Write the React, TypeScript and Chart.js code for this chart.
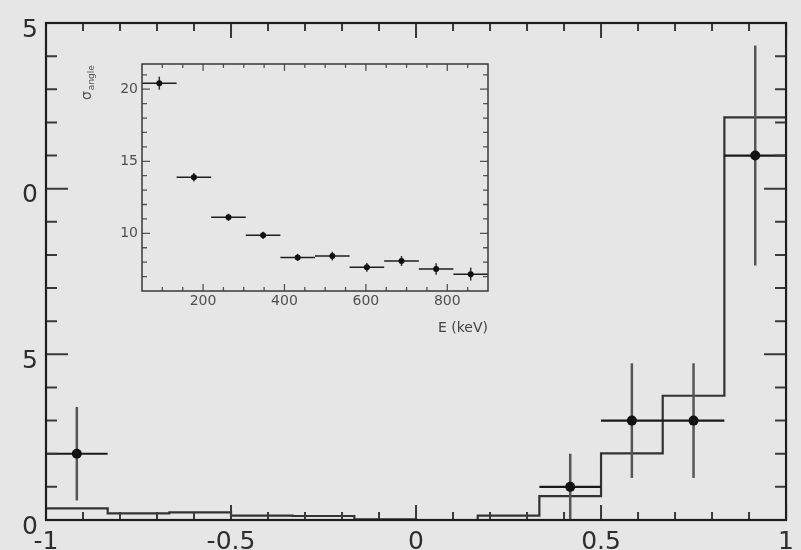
import React, { useEffect, useRef } from "react";
import { Chart, registerables } from "chart.js";

Chart.register(...registerables);

// ---------- main histogram data ----------
const binEdges = [-1, -0.8333, -0.6667, -0.5, -0.3333, -0.1667, 0, 0.1667, 0.3333, 0.5, 0.6667, 0.8333, 1];
const simCounts = [0.35, 0.2, 0.23, 0.13, 0.12, 0.02, 0, 0.13, 0.72, 2.01, 3.75, 12.15];
const dataX = [-0.9167, 0.4167, 0.5833, 0.75, 0.9167];
const dataY = [2, 1, 3, 3, 11];
const dataErrY = [1.41, 1.0, 1.73, 1.73, 3.32];
const dataErrX = [0.0833, 0.0833, 0.0833, 0.0833, 0.0833];
const xTickValues = [-1, -0.5, 0, 0.5, 1];
const xTickLabels = ["-1", "-0.5", "0", "0.5", "1"];
const yTickValues = [0, 5, 10, 15];
const yTickLabels = ["0", "5", "0", "5"];

// ---------- inset data ----------
const insetX = [92.5, 177.5, 262.5, 347.5, 432.5, 517.5, 602.5, 687.5, 772.5, 857.5];
const insetY = [20.42, 13.89, 11.11, 9.86, 8.33, 8.42, 7.64, 8.08, 7.52, 7.17];
const insetErrY = [0.45, 0.3, 0.25, 0.25, 0.25, 0.3, 0.3, 0.35, 0.4, 0.45];
const insetErrX = [42.5, 42.5, 42.5, 42.5, 42.5, 42.5, 42.5, 42.5, 42.5, 42.5];
const insetXTickValues = [200, 400, 600, 800];
const insetXTickLabels = ["200", "400", "600", "800"];
const insetYTickValues = [10, 15, 20];
const insetYTickLabels = ["10", "15", "20"];
const insetXTitle = "E (keV)";
const insetYTitleSymbol = "σ";
const insetYTitleSub = "angle";

const FONT = '"DejaVu Sans", "Liberation Sans", sans-serif';

type TickCfg = {
  xMin: number; xMax: number; xStep: number; xMajorEvery: number; xMajorLen: number; xMinorLen: number;
  yMin: number; yMax: number; yStep: number; yMajorEvery: number; yMajorLen: number; yMinorLen: number;
  tickColor: string; tickWidth: number; frameColor: string; frameWidth: number;
};

function drawFrame(chart: any, c: TickCfg) {
  const { ctx, chartArea: a, scales } = chart;
  const sx = scales.x, sy = scales.y;
  ctx.save();
  ctx.strokeStyle = c.tickColor;
  ctx.lineWidth = c.tickWidth;
  ctx.beginPath();
  const nx = Math.round((c.xMax - c.xMin) / c.xStep);
  for (let i = 0; i <= nx; i++) {
    const v = c.xMin + i * c.xStep;
    const major = i % c.xMajorEvery === 0;
    const L = major ? c.xMajorLen : c.xMinorLen;
    const px = sx.getPixelForValue(v);
    ctx.moveTo(px, a.bottom);
    ctx.lineTo(px, a.bottom - L);
    ctx.moveTo(px, a.top);
    ctx.lineTo(px, a.top + L);
  }
  const ny = Math.round((c.yMax - c.yMin) / c.yStep);
  for (let i = 0; i <= ny; i++) {
    const v = c.yMin + i * c.yStep;
    const major = i % c.yMajorEvery === 0;
    const L = major ? c.yMajorLen : c.yMinorLen;
    const py = sy.getPixelForValue(v);
    ctx.moveTo(a.left, py);
    ctx.lineTo(a.left + L, py);
    ctx.moveTo(a.right, py);
    ctx.lineTo(a.right - L, py);
  }
  ctx.stroke();
  ctx.strokeStyle = c.frameColor;
  ctx.lineWidth = c.frameWidth;
  ctx.strokeRect(a.left, a.top, a.right - a.left, a.bottom - a.top);
  ctx.restore();
}

function drawErrors(chart: any, xs: number[], ys: number[], ex: number[], ey: number[], hColor: string, vColor: string, hw: number, vw: number) {
  const { ctx, chartArea: a, scales } = chart;
  const sx = scales.x, sy = scales.y;
  ctx.save();
  ctx.beginPath();
  ctx.rect(a.left, a.top, a.right - a.left, a.bottom - a.top);
  ctx.clip();
  ctx.lineCap = "butt";
  for (let i = 0; i < xs.length; i++) {
    const px = sx.getPixelForValue(xs[i]);
    const py = sy.getPixelForValue(ys[i]);
    ctx.strokeStyle = vColor;
    ctx.lineWidth = vw;
    ctx.beginPath();
    ctx.moveTo(px, sy.getPixelForValue(ys[i] - ey[i]));
    ctx.lineTo(px, sy.getPixelForValue(ys[i] + ey[i]));
    ctx.stroke();
    ctx.strokeStyle = hColor;
    ctx.lineWidth = hw;
    ctx.beginPath();
    ctx.moveTo(sx.getPixelForValue(xs[i] - ex[i]), py);
    ctx.lineTo(sx.getPixelForValue(xs[i] + ex[i]), py);
    ctx.stroke();
  }
  ctx.restore();
}

export default function App() {
  const mainRef = useRef<HTMLCanvasElement | null>(null);
  const insetRef = useRef<HTMLCanvasElement | null>(null);

  useEffect(() => {
    if (!mainRef.current || !insetRef.current) return;

    const mainFrame: TickCfg = {
      xMin: -1, xMax: 1, xStep: 0.1, xMajorEvery: 5, xMajorLen: 15, xMinorLen: 8,
      yMin: 0, yMax: 15, yStep: 1, yMajorEvery: 5, yMajorLen: 22, yMinorLen: 11,
      tickColor: "#3a3a3a", tickWidth: 2, frameColor: "#1e1e1e", frameWidth: 2.2,
    };

    const mainPlugin = {
      id: "mainDecor",
      beforeDatasetDraw(chart: any, args: any) {
        if (args.index === 0) {
          drawErrors(chart, dataX, dataY, dataErrX, dataErrY, "#1a1a1a", "#555555", 2.2, 2.5);
        }
      },
      afterDraw(chart: any) {
        drawFrame(chart, mainFrame);
      },
    };

    const histPoints = binEdges.map((x, i) => ({ x, y: simCounts[Math.min(i, simCounts.length - 1)] }));

    const mainChart = new Chart(mainRef.current, {
      type: "scatter",
      data: {
        datasets: [
          {
            type: "scatter",
            data: dataX.map((x, i) => ({ x, y: dataY[i] })),
            pointRadius: 5,
            pointBackgroundColor: "#111111",
            pointBorderWidth: 0,
            showLine: false,
          } as any,
          {
            type: "line",
            data: histPoints,
            stepped: "before",
            borderColor: "#333333",
            borderWidth: 2.2,
            pointRadius: 0,
            fill: false,
          } as any,
        ],
      },
      options: {
        responsive: false,
        animation: false,
        devicePixelRatio: 1,
        layout: { padding: { left: 0, right: 9, top: 16, bottom: 0 } },
        plugins: { legend: { display: false }, tooltip: { enabled: false } },
        scales: {
          x: {
            type: "linear",
            min: -1,
            max: 1,
            afterBuildTicks: (s: any) => {
              s.ticks = xTickValues.map((value) => ({ value }));
            },
            afterFit: (s: any) => {
              s.height = 50;
            },
            ticks: {
              callback: (_v: any, i: number) => xTickLabels[i],
              autoSkip: false,
              maxRotation: 0,
              padding: 7,
              color: "#2e2e2e",
              font: { family: FONT, size: 25 },
            },
            grid: { display: false, drawTicks: false },
            border: { display: false },
          },
          y: {
            type: "linear",
            min: 0,
            max: 15,
            afterBuildTicks: (s: any) => {
              s.ticks = yTickValues.map((value) => ({ value }));
            },
            afterFit: (s: any) => {
              s.width = 46;
            },
            ticks: {
              callback: (_v: any, i: number) => yTickLabels[i],
              autoSkip: false,
              padding: 8,
              labelOffset: 7,
              color: "#2e2e2e",
              font: { family: FONT, size: 25 },
            },
            grid: { display: false, drawTicks: false },
            border: { display: false },
          },
        },
      } as any,
      plugins: [mainPlugin],
    });

    const insetFrame = {
      xMajorLen: 7, xMinorLen: 4, yMajorLen: 8, yMinorLen: 5,
      tickColor: "#555555", tickWidth: 1.3, frameColor: "#3a3a3a", frameWidth: 1.5,
    };
    const insetPlugin = {
      id: "insetDecor",
      beforeDatasetDraw(chart: any, args: any) {
        if (args.index === 0) {
          drawErrors(chart, insetX, insetY, insetErrX, insetErrY, "#1e1e1e", "#333333", 1.5, 1.5);
        }
      },
      afterDraw(chart: any) {
        const { ctx, chartArea: a, scales } = chart;
        ctx.save();
        ctx.strokeStyle = insetFrame.tickColor;
        ctx.lineWidth = insetFrame.tickWidth;
        ctx.beginPath();
        for (let v = 100; v <= 850; v += 50) {
          const major = v % 200 === 0;
          const L = major ? insetFrame.xMajorLen : insetFrame.xMinorLen;
          const px = scales.x.getPixelForValue(v);
          ctx.moveTo(px, a.bottom);
          ctx.lineTo(px, a.bottom - L);
          ctx.moveTo(px, a.top);
          ctx.lineTo(px, a.top + L);
        }
        for (let v = 7; v <= 21; v += 1) {
          const major = v % 5 === 0;
          const L = major ? insetFrame.yMajorLen : insetFrame.yMinorLen;
          const py = scales.y.getPixelForValue(v);
          ctx.moveTo(a.left, py);
          ctx.lineTo(a.left + L, py);
          ctx.moveTo(a.right, py);
          ctx.lineTo(a.right - L, py);
        }
        ctx.stroke();
        ctx.strokeStyle = insetFrame.frameColor;
        ctx.lineWidth = insetFrame.frameWidth;
        ctx.strokeRect(a.left, a.top, a.right - a.left, a.bottom - a.top);
        // rotated y title
        ctx.translate(31, 60);
        ctx.rotate(-Math.PI / 2);
        ctx.fillStyle = "#555555";
        ctx.textAlign = "left";
        ctx.textBaseline = "alphabetic";
        ctx.font = `14px ${FONT}`;
        ctx.fillText(insetYTitleSymbol, 0, 0);
        const w = ctx.measureText(insetYTitleSymbol).width;
        ctx.font = `9px ${FONT}`;
        ctx.fillText(insetYTitleSub, w + 1, 3);
        ctx.restore();
      },
    };

    const insetChart = new Chart(insetRef.current, {
      type: "scatter",
      data: {
        datasets: [
          {
            type: "scatter",
            data: insetX.map((x, i) => ({ x, y: insetY[i] })),
            pointRadius: 3,
            pointBackgroundColor: "#111111",
            pointBorderWidth: 0,
            showLine: false,
          } as any,
        ],
      },
      options: {
        responsive: false,
        animation: false,
        devicePixelRatio: 1,
        layout: { padding: { left: 0, right: 22, top: 24, bottom: 11 } },
        plugins: { legend: { display: false }, tooltip: { enabled: false } },
        scales: {
          x: {
            type: "linear",
            min: 50,
            max: 900,
            afterBuildTicks: (s: any) => {
              s.ticks = insetXTickValues.map((value) => ({ value }));
            },
            afterFit: (s: any) => {
              s.height = 48;
            },
            ticks: {
              callback: (_v: any, i: number) => insetXTickLabels[i],
              autoSkip: false,
              maxRotation: 0,
              padding: 2,
              color: "#505050",
              font: { family: FONT, size: 14 },
            },
            title: {
              display: true,
              text: insetXTitle,
              align: "end",
              color: "#444444",
              padding: { top: 0, bottom: 2 },
              font: { family: FONT, size: 14 },
            },
            grid: { display: false, drawTicks: false },
            border: { display: false },
          },
          y: {
            type: "linear",
            min: 6,
            max: 21.75,
            afterBuildTicks: (s: any) => {
              s.ticks = insetYTickValues.map((value) => ({ value }));
            },
            afterFit: (s: any) => {
              s.width = 82;
            },
            ticks: {
              callback: (_v: any, i: number) => insetYTickLabels[i],
              autoSkip: false,
              padding: 4,
              color: "#505050",
              font: { family: FONT, size: 14 },
            },
            grid: { display: false, drawTicks: false },
            border: { display: false },
          },
        },
      } as any,
      plugins: [insetPlugin],
    });

    return () => {
      mainChart.destroy();
      insetChart.destroy();
    };
  }, []);

  return (
    <div
      style={{
        position: "absolute",
        left: 0,
        top: 0,
        width: 801,
        height: 550,
        overflow: "hidden",
        background: "#e6e6e6",
      }}
    >
      <canvas
        ref={mainRef}
        width={801}
        height={570}
        style={{ position: "absolute", left: 0, top: 0, width: 801, height: 570 }}
      />
      <canvas
        ref={insetRef}
        width={450}
        height={310}
        style={{ position: "absolute", left: 60, top: 40, width: 450, height: 310 }}
      />
    </div>
  );
}
